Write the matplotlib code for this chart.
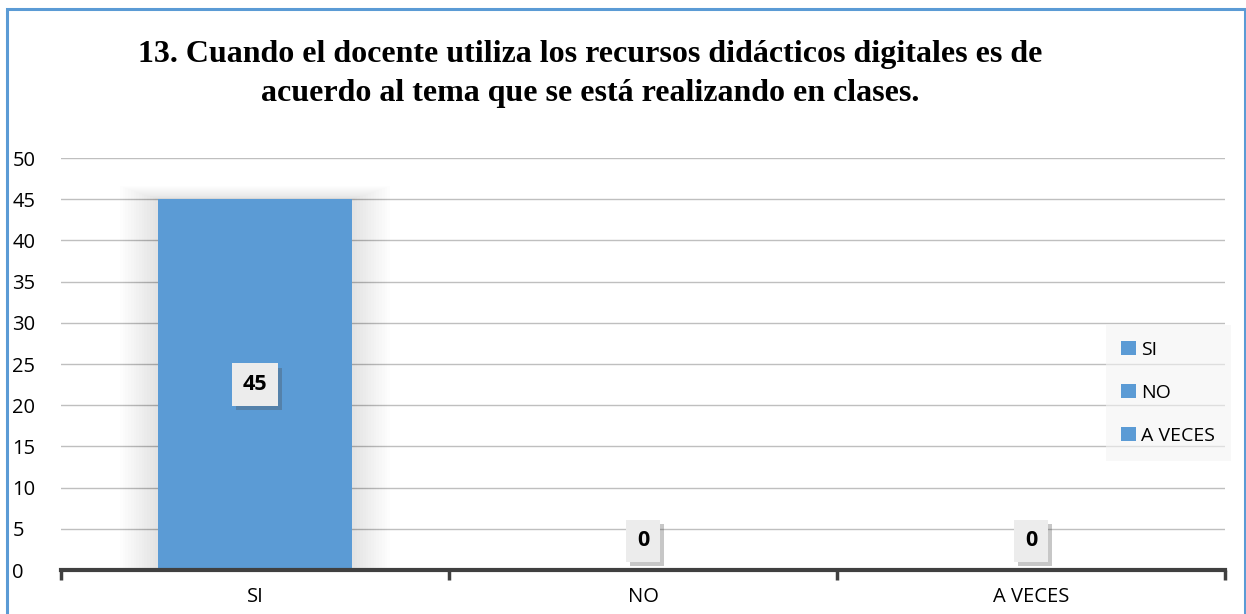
import numpy as np
import matplotlib
matplotlib.use('Agg')
import matplotlib.pyplot as plt
from matplotlib.patches import Rectangle
import matplotlib.patheffects as pe

# data
categories = ['SI', 'NO', 'A VECES']
counts = [45, 0, 0]
title = ('13. Cuando el docente utiliza los recursos didácticos digitales es de\n'
         'acuerdo al tema que se está realizando en clases.')

bar_color = '#5b9bd5'
W, H = 1246, 614

fig = plt.figure(figsize=(W / 100, H / 100), dpi=100)
fig.patch.set_facecolor('white')

# outer blue frame
fig.patches.append(Rectangle((7 / W, -0.05), (1245 - 7) / W, 1.05 - 9 / H,
                             transform=fig.transFigure, fill=False,
                             edgecolor='#5b9bd5', linewidth=2.2, zorder=10))

# axes placement in pixels
left, right, bottom, top = 61, 1225, 570, 158
ax = fig.add_axes([left / W, 1 - bottom / H, (right - left) / W, (bottom - top) / H])

x = np.arange(len(categories))
bar_w = 0.5

# soft shadow behind the bars
for i, v in enumerate(counts):
    if v <= 0:
        continue
    for k in range(14, 0, -1):
        pad = 0.007 * k
        ax.add_patch(Rectangle((x[i] - bar_w / 2 - pad, 0), bar_w + 2 * pad, v + pad * 16,
                               facecolor='black', alpha=0.008, edgecolor='none', zorder=1.5))

bars = ax.bar(x, counts, width=bar_w, color=bar_color, zorder=2)

ax.set_xlim(-0.5, 2.5)
ax.set_ylim(0, 50)
ax.set_yticks(range(0, 51, 5))
ax.yaxis.grid(True, color='#bfbfbf', linewidth=1.0)
ax.set_axisbelow(True)
for s in ['left', 'right', 'top']:
    ax.spines[s].set_visible(False)
ax.spines['bottom'].set_color('#404040')
ax.spines['bottom'].set_linewidth(3)

ax.set_xticks(x)
ax.set_xticklabels(categories, fontsize=14.5, family='Open Sans')
ax.tick_params(axis='x', length=0, pad=12)
ax.set_xticks([-0.5, 0.5, 1.5, 2.5], minor=True)
ax.tick_params(axis='x', which='minor', length=7, width=2.5, color='#404040', direction='out')
ax.tick_params(axis='y', length=0, pad=35, labelsize=14.5)
for lab in ax.get_yticklabels():
    lab.set_family('Open Sans')
    lab.set_horizontalalignment('left')

# data labels
for i, v in enumerate(counts):
    off = 0 if v > 0 else 29
    ax.annotate(str(v), (x[i], v / 2), xytext=(0, off), textcoords='offset pixels',
                ha='center', va='center', fontsize=15.5, fontweight='bold', family='Open Sans',
                bbox=dict(boxstyle='square,pad=0.5', facecolor='#ececec', edgecolor='none',
                          path_effects=[pe.withSimplePatchShadow(offset=(3, -3), alpha=0.3)]),
                zorder=5)

# legend
leg = ax.legend(bars.patches, categories, loc='center left', bbox_to_anchor=(0.894, 0.43),
                frameon=True, handlelength=0.75, handleheight=0.75,
                labelspacing=1.3, handletextpad=0.3, borderpad=0.5,
                prop={'family': 'Open Sans', 'size': 14})
leg.get_frame().set_facecolor('#f4f4f4')
leg.get_frame().set_alpha(0.6)
leg.get_frame().set_edgecolor('none')
leg.get_frame().set_boxstyle('square')

fig.text(590 / W, 1 - 74 / H, title, ha='center', va='center', fontsize=23,
         fontweight='bold', family='Liberation Serif', linespacing=1.45)

fig.savefig('out.png', dpi=100)
